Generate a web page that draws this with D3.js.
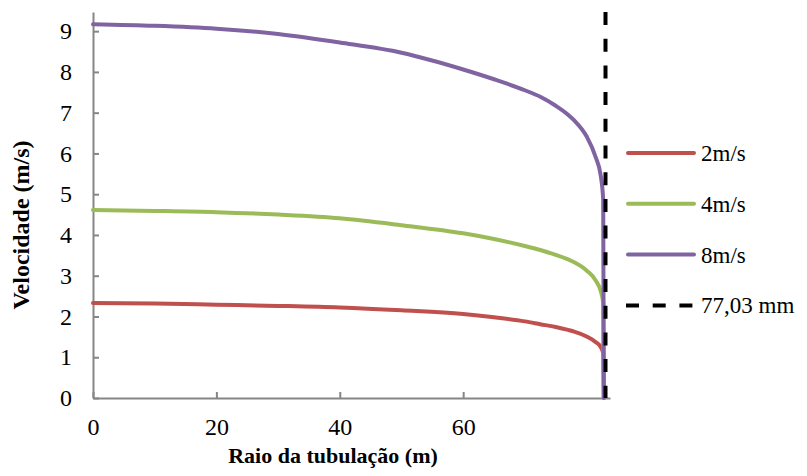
<!DOCTYPE html>
<html>
<head>
<meta charset="utf-8">
<script src="https://cdn.jsdelivr.net/npm/d3@7"></script>
<style>
  body { margin: 0; background: #fff; }
</style>
</head>
<body>
<svg width="807" height="476"></svg>
<script>
// dados
const raio = [0, 10, 20, 30, 40, 50, 60, 65, 70, 72.5, 75, 77, 78, 80, 81.5, 82.3, 82.7, 82.8];
const v2 = [2.33, 2.32, 2.29, 2.26, 2.22, 2.15, 2.06, 1.98, 1.88, 1.81, 1.74, 1.67, 1.63, 1.51, 1.37, 1.25, 1.10, 0];
const v4 = [4.61, 4.59, 4.56, 4.50, 4.41, 4.24, 4.04, 3.90, 3.73, 3.63, 3.51, 3.40, 3.33, 3.13, 2.88, 2.62, 2.33, 0];
const v8 = [9.17, 9.13, 9.06, 8.93, 8.72, 8.47, 8.06, 7.82, 7.55, 7.39, 7.17, 6.95, 6.81, 6.42, 5.90, 5.45, 4.85, 0];
const seriesNames = ["2m/s", "4m/s", "8m/s"];
const wallX = 83.07;
const wallLabel = "77,03 mm";
const xTicks = [0, 20, 40, 60];
const yTicks = [0, 1, 2, 3, 4, 5, 6, 7, 8, 9];

const colors = ["#C0504D", "#9BBB59", "#8064A2"];
const serif = "Liberation Serif, DejaVu Serif, Noto Serif, serif";

const svg = d3.select("svg");

const x = d3.scaleLinear().domain([0, 83.8]).range([93, 610]);
const y = d3.scaleLinear().domain([0, 9.47]).range([398, 12]);

// eixos
const gx = svg.append("g")
  .attr("transform", `translate(0,${y(0)})`)
  .call(d3.axisBottom(x).tickValues(xTicks).tickFormat(d3.format("d"))
    .tickSizeInner(-6).tickSizeOuter(0).tickPadding(20));

const gy = svg.append("g")
  .attr("transform", `translate(${x(0)},0)`)
  .call(d3.axisLeft(y).tickValues(yTicks).tickFormat(d3.format("d"))
    .tickSizeInner(-6).tickSizeOuter(0).tickPadding(21));

[gx, gy].forEach(g => {
  g.attr("font-family", null).attr("font-size", null);
  g.select(".domain").attr("stroke", "#868686").attr("stroke-width", 2);
  g.selectAll(".tick line").attr("stroke", "#868686").attr("stroke-width", 2);
  g.selectAll(".tick text")
    .attr("fill", "#000")
    .style("font-family", serif)
    .style("font-size", "24px");
});

// linhas
const line = d3.line()
  .x(d => x(d[0]))
  .y(d => y(d[1]))
  .curve(d3.curveMonotoneX);

[v2, v4, v8].forEach((vals, i) => {
  svg.append("path")
    .datum(raio.map((r, j) => [r, vals[j]]))
    .attr("fill", "none")
    .attr("stroke", colors[i])
    .attr("stroke-width", 4)
    .attr("stroke-linecap", "round")
    .attr("stroke-linejoin", "round")
    .attr("d", line);
});

// linha tracejada da parede
svg.append("line")
  .attr("x1", x(wallX)).attr("x2", x(wallX))
  .attr("y1", y(9.47)).attr("y2", y(0))
  .attr("stroke", "#000")
  .attr("stroke-width", 4)
  .attr("stroke-dasharray", "13,13.7");

// legenda
const legend = svg.append("g");
const legItems = seriesNames.map((n, i) => ({ name: n, color: colors[i], dash: null }))
  .concat([{ name: wallLabel, color: "#000", dash: "13,13.7" }]);

legItems.forEach((d, i) => {
  const ly = 153 + i * 50.8;
  legend.append("line")
    .attr("x1", d.dash ? 626 : 628).attr("x2", d.dash ? 695 : 694)
    .attr("y1", ly).attr("y2", ly)
    .attr("stroke", d.color)
    .attr("stroke-width", 4)
    .attr("stroke-linecap", d.dash ? "butt" : "round")
    .attr("stroke-dasharray", d.dash);
  legend.append("text")
    .attr("x", 701)
    .attr("y", ly + 8)
    .style("font-family", serif)
    .style("font-size", "23px")
    .text(d.name);
});

// títulos dos eixos
svg.append("text")
  .attr("x", 333)
  .attr("y", 463)
  .attr("text-anchor", "middle")
  .style("font-family", serif)
  .style("font-size", "22px")
  .style("font-weight", "bold")
  .text("Raio da tubulação (m)");

svg.append("text")
  .attr("transform", "translate(29,225) rotate(-90)")
  .attr("text-anchor", "middle")
  .style("font-family", serif)
  .style("font-size", "24px")
  .style("font-weight", "bold")
  .text("Velocidade (m/s)");
</script>
</body>
</html>
